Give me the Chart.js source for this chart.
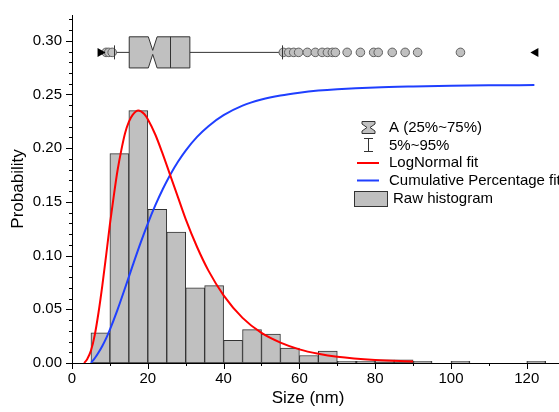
<!DOCTYPE html>
<html>
<head>
<meta charset="utf-8">
<script src="https://cdn.jsdelivr.net/npm/chart.js@4/dist/chart.umd.min.js"></script>
<style>
  html, body { margin: 0; padding: 0; background: #fff; }
</style>
</head>
<body>
<canvas id="sizeChart" width="559" height="412"></canvas>
<script>
// histogram, bin width 5 nm
var binCenters = [7.5, 12.5, 17.5, 22.5, 27.5, 32.5, 37.5, 42.5, 47.5, 52.5, 57.5, 62.5,
  67.5, 72.5, 77.5, 82.5, 87.5, 92.5, 97.5, 102.5, 107.5, 112.5, 117.5, 122.5];
var binProbs = [0.028, 0.195, 0.235, 0.143, 0.122, 0.070, 0.072, 0.021, 0.031, 0.027, 0.014, 0.007,
  0.011, 0.0015, 0.0015, 0.003, 0.003, 0.0015, 0, 0.0015, 0, 0, 0, 0.0015];

// LogNormal fit
var logNormX = [3.2, 4, 5, 6, 7, 8, 9, 10, 11, 12, 13, 14, 15, 16, 17.5, 19, 20, 22, 24, 26, 28, 30,
  33, 36, 40, 45, 50, 55, 60, 65, 70, 80, 90];
var logNormY = [0, 0.0036, 0.0115, 0.026, 0.047, 0.072, 0.100, 0.129, 0.155, 0.179, 0.198, 0.214,
  0.2245, 0.231, 0.235, 0.232, 0.227, 0.2125, 0.194, 0.174, 0.154, 0.134, 0.108, 0.086, 0.063,
  0.042, 0.028, 0.019, 0.0127, 0.0086, 0.0058, 0.0028, 0.0014];

// Cumulative percentage fit
var cumX = [5, 6, 7, 8, 9, 10, 12, 14, 16, 18, 20, 22, 24, 26, 28, 30, 33, 36, 40, 45, 50, 55, 60,
  65, 70, 80, 90, 100, 110, 122];
var cumY = [0, 0.0044, 0.0098, 0.0159, 0.0230, 0.0311, 0.0495, 0.0698, 0.0906, 0.1109, 0.1298,
  0.1469, 0.1622, 0.1758, 0.1876, 0.1978, 0.2105, 0.2205, 0.2307, 0.2396, 0.2453, 0.2491, 0.2517,
  0.2536, 0.2549, 0.2566, 0.2575, 0.2581, 0.2585, 0.2588];

// box chart (drawn on the same axes)
var boxQuartiles = [15.1, 31.1];
var boxMedian = 21.3;
var boxMean = 25.9;
var boxWhiskers = [11.2, 55.4];
var boxOutliers = [9.0, 9.7, 10.6, 55.75, 57.2, 58.5, 59.8, 62.1, 64.2, 66.0, 67.4, 68.7, 69.5,
  72.6, 76.1, 79.6, 80.8, 84.5, 87.9, 91.2, 102.5];
var boxMinMax = [7.8, 122];

var xTickLabels = ['0', '20', '40', '60', '80', '100', '120'];
var yTickLabels = ['0.00', '0.05', '0.10', '0.15', '0.20', '0.25', '0.30'];

var FONT = "'Liberation Sans', Arial, sans-serif";
var BOX_Y = 0.2892;
var BOX_HALF = 0.0145;

function toPoints(xs, ys) {
  return xs.map(function (x, i) { return { x: x, y: ys[i] }; });
}

function drawTicks(ctx, xs, ys, area) {
  var v, px, major;
  ctx.save();
  ctx.strokeStyle = '#000';
  ctx.lineWidth = 1;
  ctx.beginPath();
  for (v = 0; v <= 32; v++) {
    px = Math.round(ys.getPixelForValue(v / 100)) + 0.5;
    major = v % 5 === 0;
    ctx.moveTo(area.left, px);
    ctx.lineTo(area.left - (major ? 6 : 3), px);
  }
  for (v = 0; v <= 120; v += 10) {
    px = Math.round(xs.getPixelForValue(v)) + 0.5;
    major = v % 20 === 0;
    ctx.moveTo(px, area.bottom);
    ctx.lineTo(px, area.bottom + (major ? 6 : 3));
  }
  ctx.stroke();
  ctx.restore();
}

function drawBox(ctx, xs, ys) {
  var cy = ys.getPixelForValue(BOX_Y);
  var top = ys.getPixelForValue(BOX_Y + BOX_HALF);
  var bot = ys.getPixelForValue(BOX_Y - BOX_HALF);
  var q1 = xs.getPixelForValue(boxQuartiles[0]);
  var q3 = xs.getPixelForValue(boxQuartiles[1]);
  var med = xs.getPixelForValue(boxMedian);
  var n = 4.4;
  var i, px;

  ctx.save();
  ctx.strokeStyle = '#333';
  ctx.lineWidth = 1;

  // whiskers
  ctx.beginPath();
  ctx.moveTo(xs.getPixelForValue(boxWhiskers[0]), cy);
  ctx.lineTo(q1, cy);
  ctx.moveTo(q3, cy);
  ctx.lineTo(xs.getPixelForValue(boxWhiskers[1]), cy);
  ctx.stroke();

  // outliers
  ctx.fillStyle = '#c0c0c0';
  ctx.strokeStyle = '#606060';
  for (i = 0; i < boxOutliers.length; i++) {
    px = xs.getPixelForValue(boxOutliers[i]);
    ctx.beginPath();
    ctx.arc(px, cy, 4.3, 0, Math.PI * 2);
    ctx.fill();
    ctx.stroke();
  }

  // whisker caps
  ctx.strokeStyle = '#333';
  ctx.beginPath();
  for (i = 0; i < 2; i++) {
    px = Math.round(xs.getPixelForValue(boxWhiskers[i])) + 0.5;
    ctx.moveTo(px, cy - 7);
    ctx.lineTo(px, cy + 7);
  }
  ctx.stroke();

  // notched box
  ctx.beginPath();
  ctx.moveTo(q1, top);
  ctx.lineTo(med - n, top);
  ctx.lineTo(med, cy - 2);
  ctx.lineTo(med + n, top);
  ctx.lineTo(q3, top);
  ctx.lineTo(q3, bot);
  ctx.lineTo(med + n, bot);
  ctx.lineTo(med, cy + 2);
  ctx.lineTo(med - n, bot);
  ctx.lineTo(q1, bot);
  ctx.closePath();
  ctx.fillStyle = '#c0c0c0';
  ctx.fill();
  ctx.stroke();
  px = Math.round(xs.getPixelForValue(boxMean)) + 0.5;
  ctx.beginPath();
  ctx.moveTo(px, top);
  ctx.lineTo(px, bot);
  ctx.stroke();

  // min / max markers
  ctx.fillStyle = '#000';
  px = xs.getPixelForValue(boxMinMax[0]);
  ctx.beginPath();
  ctx.moveTo(px - 4, cy - 4.5);
  ctx.lineTo(px + 4, cy);
  ctx.lineTo(px - 4, cy + 4.5);
  ctx.closePath();
  ctx.fill();
  px = xs.getPixelForValue(boxMinMax[1]);
  ctx.beginPath();
  ctx.moveTo(px + 4, cy - 4.5);
  ctx.lineTo(px - 4, cy);
  ctx.lineTo(px + 4, cy + 4.5);
  ctx.closePath();
  ctx.fill();
  ctx.restore();
}

function drawLegend(ctx) {
  ctx.save();
  ctx.strokeStyle = '#333';
  ctx.lineWidth = 1;
  ctx.fillStyle = '#c0c0c0';

  // hourglass (notched box)
  ctx.beginPath();
  ctx.moveTo(362, 121.5);
  ctx.lineTo(375, 121.5);
  ctx.lineTo(375, 124);
  ctx.lineTo(370, 127.5);
  ctx.lineTo(375, 131);
  ctx.lineTo(375, 133.5);
  ctx.lineTo(362, 133.5);
  ctx.lineTo(362, 131);
  ctx.lineTo(367, 127.5);
  ctx.lineTo(362, 124);
  ctx.closePath();
  ctx.fill();
  ctx.stroke();

  // whisker
  ctx.beginPath();
  ctx.moveTo(368.5, 138.5);
  ctx.lineTo(368.5, 151.5);
  ctx.moveTo(364, 138.5);
  ctx.lineTo(373, 138.5);
  ctx.moveTo(364, 151.5);
  ctx.lineTo(373, 151.5);
  ctx.stroke();

  // fit lines
  ctx.lineWidth = 2;
  ctx.strokeStyle = '#ff0000';
  ctx.beginPath();
  ctx.moveTo(357, 163);
  ctx.lineTo(379, 163);
  ctx.stroke();
  ctx.strokeStyle = '#1f3fff';
  ctx.beginPath();
  ctx.moveTo(357, 180.5);
  ctx.lineTo(379, 180.5);
  ctx.stroke();

  // histogram swatch
  ctx.lineWidth = 1;
  ctx.strokeStyle = '#333';
  ctx.fillRect(354.5, 191.5, 33, 15);
  ctx.strokeRect(354.5, 191.5, 33, 15);

  ctx.fillStyle = '#000';
  ctx.font = '15px ' + FONT;
  ctx.textBaseline = 'middle';
  ctx.fillText('A (25%~75%)', 389, 128);
  ctx.fillText('5%~95%', 389, 145.5);
  ctx.fillText('LogNormal fit', 389, 163);
  ctx.fillText('Cumulative Percentage fit', 389, 180.5);
  ctx.fillText('Raw histogram', 393, 199);

  // x axis title
  ctx.font = '17px ' + FONT;
  ctx.textAlign = 'center';
  ctx.fillText('Size (nm)', 308, 398);
  ctx.restore();
}

var extrasPlugin = {
  id: 'extras',
  afterDraw: function (chart) {
    var ctx = chart.ctx;
    drawTicks(ctx, chart.scales.x, chart.scales.y, chart.chartArea);
    drawBox(ctx, chart.scales.x, chart.scales.y);
    drawLegend(ctx);
  }
};

Chart.defaults.font.family = FONT;
Chart.defaults.color = '#000';

var canvas = document.getElementById('sizeChart');
new Chart(canvas.getContext('2d'), {
  type: 'bar',
  data: {
    datasets: [
      {
        type: 'line',
        label: 'LogNormal fit',
        data: toPoints(logNormX, logNormY),
        borderColor: '#ff0000',
        borderWidth: 2,
        pointRadius: 0,
        cubicInterpolationMode: 'monotone',
        order: 1
      },
      {
        type: 'line',
        label: 'Cumulative Percentage fit',
        data: toPoints(cumX, cumY),
        borderColor: '#1f3fff',
        borderWidth: 2,
        pointRadius: 0,
        cubicInterpolationMode: 'monotone',
        order: 1
      },
      {
        label: 'Raw histogram',
        data: toPoints(binCenters, binProbs),
        backgroundColor: '#c0c0c0',
        borderColor: '#333',
        borderWidth: 1,
        borderSkipped: false,
        barPercentage: 1,
        categoryPercentage: 1,
        order: 2
      }
    ]
  },
  options: {
    responsive: false,
    animation: false,
    layout: { autoPadding: false, padding: { top: 15, right: 0, bottom: 0, left: 0 } },
    plugins: { legend: { display: false }, tooltip: { enabled: false } },
    scales: {
      x: {
        type: 'linear',
        min: 0,
        max: 128.5,
        offset: false,
        grid: { display: false, drawTicks: false, tickLength: 0 },
        border: { display: true, color: '#000', width: 1 },
        ticks: {
          stepSize: 10,
          includeBounds: false,
          autoSkip: false,
          maxRotation: 0,
          padding: 7,
          font: { size: 15 },
          color: '#000',
          callback: function (v) {
            var s = String(Math.round(v));
            return xTickLabels.indexOf(s) >= 0 ? s : '';
          }
        },
        afterFit: function (scale) {
          scale.height = 49;
          scale.paddingLeft = 0;
          scale.paddingRight = 0;
        }
      },
      y: {
        min: 0,
        max: 0.324,
        grid: { display: false, drawTicks: false, tickLength: 0 },
        border: { display: true, color: '#000', width: 1 },
        title: {
          display: true,
          text: 'Probability',
          font: { size: 17 },
          color: '#000',
          padding: { top: 8, bottom: 0 }
        },
        ticks: {
          stepSize: 0.01,
          includeBounds: false,
          autoSkip: false,
          padding: 10,
          font: { size: 15 },
          color: '#000',
          callback: function (v) {
            var s = v.toFixed(2);
            return yTickLabels.indexOf(s) >= 0 && Math.abs(v - Number(s)) < 1e-6 ? s : '';
          }
        },
        afterFit: function (scale) {
          scale.width = 72;
          scale.paddingTop = 0;
          scale.paddingBottom = 0;
        }
      }
    }
  },
  plugins: [extrasPlugin]
});
</script>
</body>
</html>
